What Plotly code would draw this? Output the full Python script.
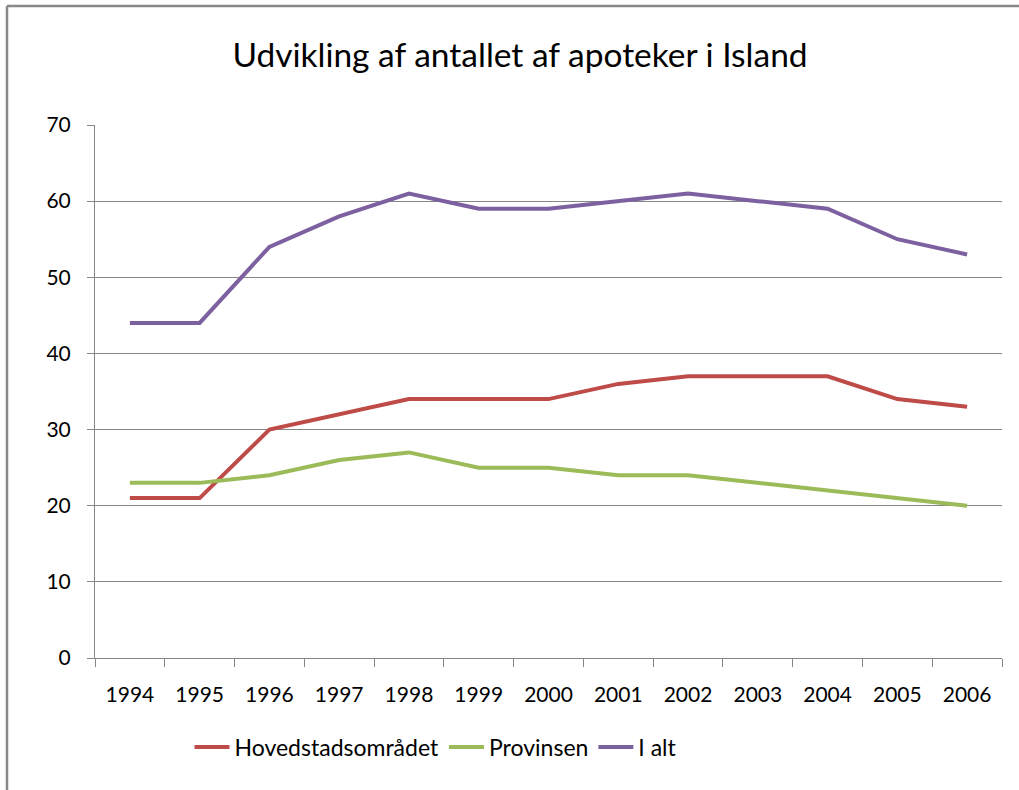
import plotly.graph_objects as go

years = ["1994", "1995", "1996", "1997", "1998", "1999", "2000",
         "2001", "2002", "2003", "2004", "2005", "2006"]
hoved = [21, 21, 30, 32, 34, 34, 34, 36, 37, 37, 37, 34, 33]
provinsen = [23, 23, 24, 26, 27, 25, 25, 24, 24, 23, 22, 21, 20]
i_alt = [44, 44, 54, 58, 61, 59, 59, 60, 61, 60, 59, 55, 53]

FONT = "Lato"
W, H = 1019, 790
L, R, T, B = 95, 17, 125, 132
pw, ph = W - L - R, H - T - B

fig = go.Figure()
fig.add_trace(go.Scatter(x=years, y=hoved, mode="lines", name="Hovedstadsområdet",
                         line=dict(color="#BE4B48", width=4)))
fig.add_trace(go.Scatter(x=years, y=provinsen, mode="lines", name="Provinsen",
                         line=dict(color="#9BBB59", width=4)))
fig.add_trace(go.Scatter(x=years, y=i_alt, mode="lines", name="I alt",
                         line=dict(color="#7D60A0", width=4)))

def px_x(px):
    return (px - L) / pw

def px_y(py):
    return (H - B - py) / ph

fig.update_layout(
    width=W, height=H,
    margin=dict(l=L, r=R, t=T, b=B),
    paper_bgcolor="white", plot_bgcolor="white",
    font=dict(family=FONT, color="#000000"),
    title=dict(text="Udvikling af antallet af apoteker i Island",
               x=(232 + 808) / 2 / W, xanchor="center",
               y=1 - 55 / H, yanchor="middle",
               font=dict(size=33.5, family=FONT, color="#000000")),
    xaxis=dict(type="category", range=[-0.5, 12.5], tickson="boundaries",
               showgrid=False, showline=True, linecolor="#868686", linewidth=1,
               ticks="outside", ticklen=8, tickcolor="#868686",
               ticklabelstandoff=18,
               tickfont=dict(size=21, family=FONT), zeroline=False),
    yaxis=dict(range=[0, 70], dtick=10, showgrid=True, gridcolor="#868686",
               gridwidth=1, showline=True, linecolor="#868686", linewidth=1,
               ticks="outside", ticklen=7, tickcolor="#868686",
               ticklabelstandoff=12,
               tickfont=dict(size=21, family=FONT), zeroline=False),
    legend=dict(orientation="h", x=px_x(436), xanchor="center",
                y=px_y(747), yanchor="middle",
                font=dict(size=23, family=FONT), itemwidth=35,
                bgcolor="rgba(0,0,0,0)"),
    showlegend=True,
)

fig.add_shape(type="line", xref="paper", yref="paper",
              x0=px_x(7), x1=px_x(7), y0=px_y(6), y1=px_y(800),
              line=dict(color="#898989", width=2.5))
fig.add_shape(type="line", xref="paper", yref="paper",
              x0=px_x(7), x1=px_x(1030), y0=px_y(6), y1=px_y(6),
              line=dict(color="#898989", width=2.5))

fig.write_html("out.html", config={"displayModeBar": False},
               post_script="document.body.style.margin='0';document.body.style.overflow='hidden';")
